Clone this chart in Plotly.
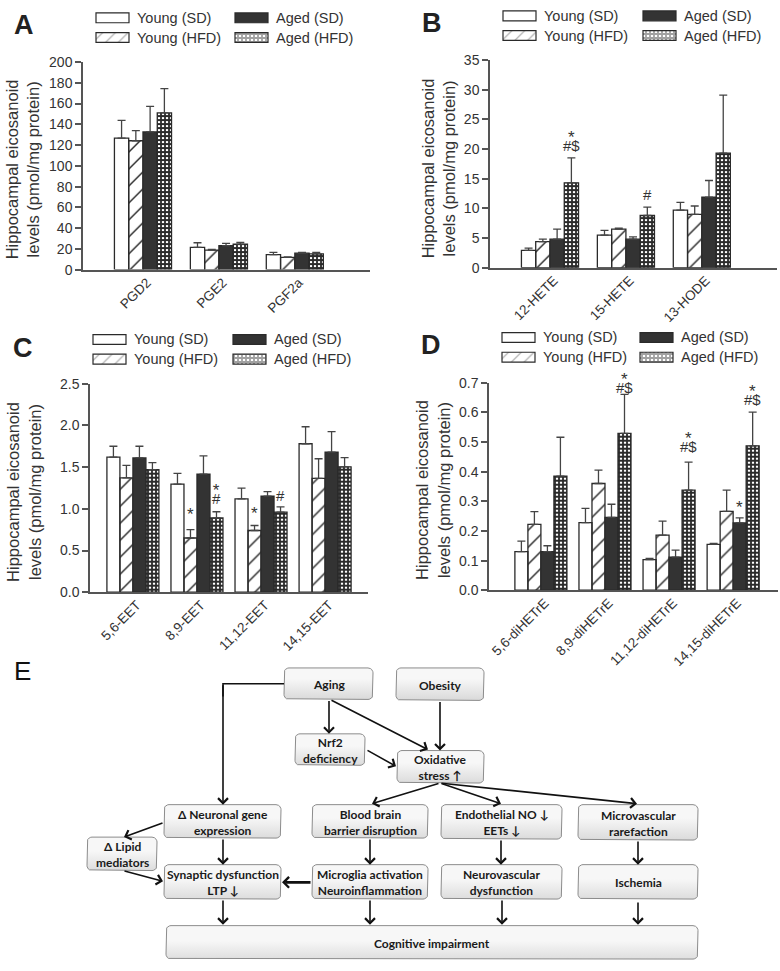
import math
import plotly.graph_objects as go

W, H = 780, 971
def px(x): return x / W
def py(y): return 1 - y / H

FONT = "Liberation Sans, Arial, sans-serif"
NARROW = "Lato, Liberation Sans, sans-serif"
TXT = "#333333"
AX = "#555555"

# ---------------- data ----------------
groups = ["Young (SD)", "Young (HFD)", "Aged (SD)", "Aged (HFD)"]

a_cats = ["PGD2", "PGE2", "PGF2a"]
a_young_sd = [126.7, 21.5, 14.5]
a_young_sd_err = [17.1, 4.4, 2.2]
a_young_hfd = [124.2, 18.8, 11.8]
a_young_hfd_err = [9.8, 0.8, 0.5]
a_aged_sd = [132.7, 23.0, 15.8]
a_aged_sd_err = [24.6, 2.3, 0.9]
a_aged_hfd = [151.0, 24.6, 15.2]
a_aged_hfd_err = [23.4, 1.6, 1.5]

b_cats = ["12-HETE", "15-HETE", "13-HODE"]
b_young_sd = [2.9, 5.5, 9.7]
b_young_sd_err = [0.4, 0.8, 1.3]
b_young_hfd = [4.4, 6.5, 9.0]
b_young_hfd_err = [0.4, 0.15, 1.4]
b_aged_sd = [4.8, 4.8, 11.9]
b_aged_sd_err = [1.7, 0.4, 2.8]
b_aged_hfd = [14.3, 8.8, 19.3]
b_aged_hfd_err = [4.2, 1.4, 9.8]

c_cats = ["5,6-EET", "8,9-EET", "11,12-EET", "14,15-EET"]
c_young_sd = [1.62, 1.295, 1.12, 1.78]
c_young_sd_err = [0.13, 0.13, 0.128, 0.204]
c_young_hfd = [1.37, 0.65, 0.74, 1.366]
c_young_hfd_err = [0.15, 0.10, 0.06, 0.234]
c_aged_sd = [1.61, 1.417, 1.153, 1.68]
c_aged_sd_err = [0.14, 0.217, 0.052, 0.245]
c_aged_hfd = [1.47, 0.89, 0.96, 1.504]
c_aged_hfd_err = [0.085, 0.075, 0.064, 0.11]

d_cats = ["5,6-diHETrE", "8,9-diHETrE", "11,12-diHETrE", "14,15-diHETrE"]
d_young_sd = [0.13, 0.228, 0.103, 0.155]
d_young_sd_err = [0.036, 0.048, 0.004, 0.003]
d_young_hfd = [0.222, 0.36, 0.186, 0.266]
d_young_hfd_err = [0.043, 0.045, 0.047, 0.072]
d_aged_sd = [0.13, 0.246, 0.112, 0.227]
d_aged_sd_err = [0.02, 0.044, 0.023, 0.017]
d_aged_hfd = [0.385, 0.529, 0.338, 0.487]
d_aged_hfd_err = [0.131, 0.132, 0.094, 0.114]

# significance marks: category index, group index, marks (stacked top->bottom), y of mark block
b_sig_cat = [0, 1]
b_sig_grp = [3, 3]
b_sig_txt = [["*", "#$"], ["#"]]
b_sig_y = [21.65, 12.3]

c_sig_cat = [1, 1, 2, 2]
c_sig_grp = [1, 3, 1, 3]
c_sig_txt = [["*"], ["*", "#"], ["*"], ["#"]]
c_sig_y = [0.98, 1.19, 0.99, 1.16]

d_sig_cat = [1, 2, 3, 3]
d_sig_grp = [3, 3, 2, 3]
d_sig_txt = [["*", "#$"], ["*", "#$"], ["*"], ["*", "#$"]]
d_sig_y = [0.704, 0.504, 0.293, 0.662]

# ---------------- styles ----------------
g_fill = ["white", "white", "#333333", "white"]
g_shape = ["", "/", "", "+"]
g_psize = [8, 12, 8, 4]
g_solid = [0.3, 0.12, 0.3, 0.7]

fig = go.Figure()

panels = [
    dict(cats=a_cats, vals=[a_young_sd, a_young_hfd, a_aged_sd, a_aged_hfd],
         errs=[a_young_sd_err, a_young_hfd_err, a_aged_sd_err, a_aged_hfd_err],
         xd=(83, 370), yd=(55, 266), yr=200, dt=20, fmt="d", xr=(-0.79, 2.99), bw=0.188,
         sig=None, letter="A", lx=24, ly=17, tx=22, ty=164,
         sw=(96, 235), rows=(10, 30)),
    dict(cats=b_cats, vals=[b_young_sd, b_young_hfd, b_aged_sd, b_aged_hfd],
         errs=[b_young_sd_err, b_young_hfd_err, b_aged_sd_err, b_aged_hfd_err],
         xd=(490, 777), yd=(53, 264), yr=35, dt=5, fmt="d", xr=(-0.79, 2.99), bw=0.188,
         sig=(b_sig_cat, b_sig_grp, b_sig_txt, b_sig_y), letter="B", lx=432, ly=15, tx=438, ty=163,
         sw=(503, 643), rows=(8, 28)),
    dict(cats=c_cats, vals=[c_young_sd, c_young_hfd, c_aged_sd, c_aged_hfd],
         errs=[c_young_sd_err, c_young_hfd_err, c_aged_sd_err, c_aged_hfd_err],
         xd=(90, 368), yd=(382, 594), yr=2.5, dt=0.5, fmt=".1f", xr=(-0.67, 3.67), bw=0.203,
         sig=(c_sig_cat, c_sig_grp, c_sig_txt, c_sig_y), letter="C", lx=23, ly=346, tx=24, ty=492,
         sw=(93, 233), rows=(337, 357)),
    dict(cats=d_cats, vals=[d_young_sd, d_young_hfd, d_aged_sd, d_aged_hfd],
         errs=[d_young_sd_err, d_young_hfd_err, d_aged_sd_err, d_aged_hfd_err],
         xd=(489, 778), yd=(381, 592), yr=0.7, dt=0.1, fmt=".1f", xr=(-0.81, 3.70), bw=0.203,
         sig=(d_sig_cat, d_sig_grp, d_sig_txt, d_sig_y), letter="D", lx=431, ly=343, tx=433, ty=490,
         sw=(502, 640), rows=(335, 355)),
]

def mark_span(t):
    return f'<span style="font-size:{17 if t == "*" else 15}px">{t}</span>'

annotations = []
layout_axes = {}
for i, p in enumerate(panels):
    n = i + 1
    xa = "x" if n == 1 else f"x{n}"
    ya = "y" if n == 1 else f"y{n}"
    idx = list(range(len(p["cats"])))
    w = p["bw"]
    plot_h = p["yd"][1] - p["yd"][0]
    for g in range(4):
        fig.add_trace(go.Bar(
            x=idx, y=p["vals"][g], name=groups[g], showlegend=False,
            width=w, offset=-2 * w + g * w,
            marker=dict(color=g_fill[g], line=dict(color="#2a2a2a", width=1.3),
                        pattern=dict(shape=g_shape[g], fgcolor="#2a2a2a", size=g_psize[g],
                                     solidity=g_solid[g], fillmode="replace")),
            error_y=dict(type="data", array=p["errs"][g], arrayminus=[0] * len(idx),
                         symmetric=False, color="#444444", thickness=1.3, width=4),
            xaxis=xa, yaxis=ya, hoverinfo="skip"))
    layout_axes["xaxis" if n == 1 else f"xaxis{n}"] = dict(
        domain=[px(p["xd"][0]), px(p["xd"][1])], range=list(p["xr"]), anchor=ya,
        tickvals=idx, ticktext=p["cats"], tickangle=-45, ticks="",
        ticklabelshift=4, ticklabelstandoff=-2,
        showline=True, linecolor=AX, linewidth=1.5, showgrid=False, zeroline=False,
        tickfont=dict(family=FONT, size=13.5, color=TXT), fixedrange=True)
    layout_axes["yaxis" if n == 1 else f"yaxis{n}"] = dict(
        domain=[py(p["yd"][1]), py(p["yd"][0])], range=[0, p["yr"]], anchor=xa,
        dtick=p["dt"], tick0=0, tickformat=p["fmt"], ticks="outside", ticklen=6,
        tickwidth=1.5, tickcolor=AX, showline=True, linecolor=AX, linewidth=1.5,
        showgrid=False, zeroline=False, tickfont=dict(family=FONT, size=14, color=TXT),
        fixedrange=True)
    # significance marks
    if p["sig"]:
        cats_, grps_, txts_, ys_ = p["sig"]
        for c, g, marks, yv in zip(cats_, grps_, txts_, ys_):
            extra = 0.0
            yy = yv
            if yv > p["yr"]:
                extra = (yv - p["yr"]) / p["yr"] * plot_h
                yy = p["yr"]
            if len(marks) == 1:
                t = marks[0]
                annotations.append(dict(
                    x=c + (g - 1.5) * w, y=yy, xref=xa, yref=ya, text=t, showarrow=False,
                    xanchor="center", yanchor="middle",
                    font=dict(family=FONT, size=17 if t == "*" else 15, color=TXT),
                    yshift=(-4 if t == "*" else 0) + extra))
            else:
                annotations.append(dict(
                    x=c + (g - 1.5) * w, y=yy, xref=xa, yref=ya,
                    text="<br>".join(mark_span(t) for t in marks), showarrow=False,
                    xanchor="center", yanchor="middle",
                    font=dict(family=FONT, size=6.5, color=TXT),
                    yshift=-1.5 + extra))
    # panel letter
    annotations.append(dict(x=px(p["lx"]), y=py(p["ly"]), xref="paper", yref="paper",
                            xanchor="center", yanchor="middle",
                            text=f"<b>{p['letter']}</b>", showarrow=False,
                            font=dict(family=FONT, size=27, color="#222")))
    # y title
    annotations.append(dict(x=px(p["tx"]), y=py(p["ty"]), xref="paper", yref="paper",
                            xanchor="center", yanchor="middle",
                            text="Hippocampal eicosanoid<br>levels (pmol/mg protein)",
                            textangle=-90, showarrow=False,
                            font=dict(family=FONT, size=16.5, color=TXT)))
    # legend labels
    for g in range(4):
        col, row = g // 2, g % 2
        annotations.append(dict(x=px(p["sw"][col] + 39), y=py(p["rows"][row]),
                                xref="paper", yref="paper", xanchor="left", yanchor="middle",
                                text=groups[g], showarrow=False,
                                font=dict(family=FONT, size=14.5, color=TXT)))

# legend swatches (on full-figure pixel overlay axis)
sw_y, sw_base, sw_col, sw_shape, sw_size, sw_sol = [], [], [], [], [], []
for p in panels:
    for g in range(4):
        col, row = g // 2, g % 2
        sw_y.append(p["rows"][row]); sw_base.append(p["sw"][col])
        sw_col.append(g_fill[g]); sw_shape.append(g_shape[g])
        sw_size.append(g_psize[g] if g != 1 else 9); sw_sol.append(g_solid[g])
fig.add_trace(go.Bar(
    orientation="h", y=sw_y, x=[33] * len(sw_y), base=sw_base, width=10, offset=-5,
    marker=dict(color=sw_col, line=dict(color="#2a2a2a", width=1.2),
                pattern=dict(shape=sw_shape, fgcolor="#2a2a2a", size=sw_size, solidity=sw_sol)),
    xaxis="x5", yaxis="y5", showlegend=False, hoverinfo="skip"))

# ---------------- panel E diagram ----------------
boxes = [
    ("Aging", 284, 373, 671, 703),
    ("Obesity", 396, 484, 671, 704),
    ("Nrf2<br>deficiency", 295, 365, 738, 770),
    ("Oxidative<br>stress \u2191", 397, 484, 755, 788),
    ("\u0394 Neuronal gene<br>expression", 164, 281, 810, 844),
    ("Blood brain<br>barrier disruption", 312, 428, 810, 844),
    ("Endothelial NO \u2193<br>EETs \u2193", 441, 562, 810, 845),
    ("Microvascular<br>rarefaction", 578, 698, 810, 846),
    ("\u0394 Lipid<br>mediators", 87, 157, 843, 877),
    ("Synaptic dysfunction<br>LTP \u2193", 164, 281, 871, 906),
    ("Microglia activation<br>Neuroinflammation", 312, 428, 871, 906),
    ("Neurovascular<br>dysfunction", 441, 562, 871, 906),
    ("Ischemia", 578, 698, 871, 906),
    ("Cognitive impairment", 166, 698, 933, 967),
]

def rrect(x0, x1, y0, y1, r=5):
    xs, ys = [], []
    corners = [(x1 - r, y0 + r, -90, 0), (x1 - r, y1 - r, 0, 90),
               (x0 + r, y1 - r, 90, 180), (x0 + r, y0 + r, 180, 270)]
    for cx, cy, a0, a1 in corners:
        for k in range(7):
            a = math.radians(a0 + (a1 - a0) * k / 6)
            xs.append(cx + r * math.cos(a)); ys.append(cy + r * math.sin(a))
    xs.append(xs[0]); ys.append(ys[0])
    return xs, ys

for label, x0, x1, y0, y1 in boxes:
    xs, ys = rrect(x0, x1, y0, y1)
    fig.add_trace(go.Scatter(
        x=xs, y=ys, mode="lines", fill="toself", line=dict(color="#8c8c8c", width=1),
        fillgradient=dict(type="vertical", colorscale=[[0, "#c9c9c9"], [1, "#f7f7f7"]],
                          start=y1, stop=y0),
        xaxis="x5", yaxis="y5", showlegend=False, hoverinfo="skip"))
    annotations.append(dict(x=(x0 + x1) / 2, y=(y0 + y1) / 2 + 1, xref="x5", yref="y5",
                            xanchor="center", yanchor="middle",
                            text=f"<b>{label}</b>", showarrow=False,
                            font=dict(family=NARROW, size=12, color="#1a1a1a")))

# Aging -> left elbow line
fig.add_trace(go.Scatter(x=[284, 223, 223], y=[687, 687, 700], mode="lines",
                         line=dict(color="#111", width=1.6), xaxis="x5", yaxis="y5",
                         showlegend=False, hoverinfo="skip"))

arrows = [
    (329, 703, 329, 738, 1.6), (330, 703, 428, 754, 1.6), (440, 704, 440, 755, 1.6),
    (366, 754, 396, 771, 1.6), (223, 687, 223, 810, 1.6),
    (440, 788, 372, 809, 1.6), (440, 788, 501, 809, 1.6), (440, 788, 637, 809, 1.6),
    (164, 828, 124, 843, 1.6), (223, 844, 223, 871, 1.6), (123, 877, 163, 888, 1.6),
    (312, 889, 282, 889, 2.6), (370, 844, 370, 871, 1.6), (501, 845, 501, 871, 1.6),
    (638, 846, 638, 871, 1.6), (223, 906, 223, 932, 1.6), (370, 906, 370, 932, 1.6),
    (502, 906, 502, 932, 1.6), (638, 908, 638, 932, 1.6),
]
for ax_, ay_, x_, y_, lw in arrows:
    annotations.append(dict(x=x_, y=y_, ax=ax_, ay=ay_, xref="x5", yref="y5",
                            axref="x5", ayref="y5", text="", showarrow=True,
                            arrowhead=4, arrowsize=1.2 if lw < 2 else 0.8,
                            arrowwidth=lw, arrowcolor="#111", standoff=0, startstandoff=0))

annotations.append(dict(x=px(22), y=py(674), xref="paper", yref="paper", text="E",
                        xanchor="center", yanchor="middle",
                        showarrow=False, font=dict(family=FONT, size=26, color="#111")))

layout_axes["xaxis5"] = dict(domain=[0, 1], range=[0, W], anchor="y5", visible=False,
                             fixedrange=True)
layout_axes["yaxis5"] = dict(domain=[0, 1], range=[H, 0], anchor="x5", visible=False,
                             fixedrange=True)

fig.update_layout(
    width=W, height=H, margin=dict(l=0, r=0, t=0, b=0),
    paper_bgcolor="white", plot_bgcolor="rgba(0,0,0,0)",
    barmode="overlay", showlegend=False, annotations=annotations,
    font=dict(family=FONT, color=TXT), **layout_axes)

fig.write_html("out.html", config={"displayModeBar": False},
               post_script="document.body.style.margin='0';document.body.style.overflow='hidden';")
